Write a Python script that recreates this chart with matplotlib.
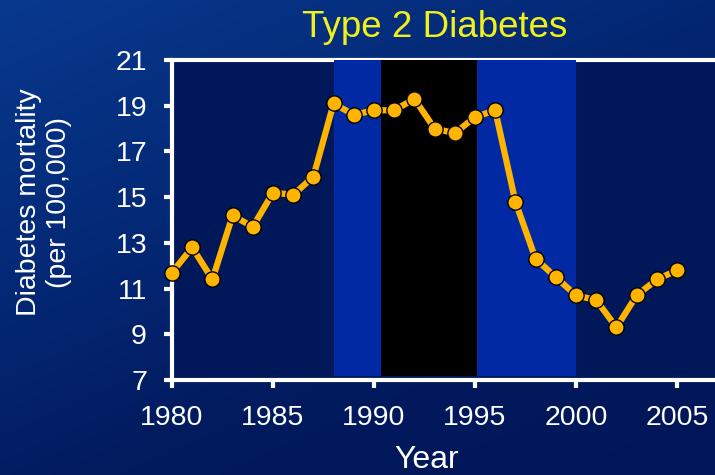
import numpy as np
import matplotlib
matplotlib.use("Agg")
import matplotlib.pyplot as plt
from matplotlib.colors import LinearSegmentedColormap

plt.rcParams['font.family'] = ['Liberation Sans', 'DejaVu Sans']

years = list(range(1980, 2006))
mortality = [11.7, 12.8, 11.4, 14.2, 13.7, 15.2, 15.1, 15.9, 19.1, 18.6,
             18.8, 18.8, 19.3, 18.0, 17.8, 18.5, 18.8, 14.8, 12.3, 11.5,
             10.7, 10.5, 9.3, 10.7, 11.4, 11.8]
bands = [(1988.0, 1990.35, '#0029a3'), (1990.35, 1995.1, '#000000'), (1995.1, 2000.0, '#0029a3')]
xticks = [1980, 1985, 1990, 1995, 2000, 2005]
yticks = [7, 9, 11, 13, 15, 17, 19, 21]

fig = plt.figure(figsize=(7.15, 4.75), dpi=100)

# background gradient
bg = fig.add_axes([0, 0, 1, 1], zorder=-10)
yy, xx = np.mgrid[0:1:200j, 0:1:300j]
grad = 0.6 * yy + 0.4 * xx
cmap = LinearSegmentedColormap.from_list('bg', ['#08398e', '#042a78', '#021a5e', '#011658'])
bg.imshow(grad, cmap=cmap, aspect='auto', extent=[0, 1, 0, 1], origin='upper')
bg.axis('off')

ax = fig.add_axes([172/715, 1 - 380/475, 1 - 172/715, 320/475])
ax.set_facecolor('#00185a')
ax.set_xlim(1980, 1980 + (715 - 172) / 20.2)
ax.set_ylim(7, 21)

for x0, x1, c in bands:
    ax.axvspan(x0, x1, ymin=0.012, ymax=1.0, color=c, zorder=3, lw=0)

ax.plot(years, mortality, color='#ffb400', lw=4.5, marker='o', ms=11,
        mfc='#ffb400', mec='black', mew=1.0, zorder=5, clip_on=False)

for s in ['left', 'bottom', 'top']:
    ax.spines[s].set_color('white')
    ax.spines[s].set_linewidth(3)
ax.spines['right'].set_visible(False)

ax.set_xticks(xticks)
ax.set_yticks(yticks)
ax.tick_params(axis='x', colors='white', labelsize=20.5, length=6, width=3, direction='out', pad=12)
ax.tick_params(axis='y', colors='white', labelsize=20.5, length=6, width=3, direction='out', pad=12)
for lab in ax.get_xticklabels() + ax.get_yticklabels():
    lab.set_color('white')

fig.text(435/715, 1 - 37/475, 'Type 2 Diabetes', color='#f0f01c', fontsize=26.5,
         ha='center', va='baseline')
fig.text(44/715, 1 - 202/475, 'Diabetes mortality\n(per 100,000)', color='white',
         fontsize=20.5, rotation=90, ha='center', va='center', linespacing=1.15)
fig.text(427/715, 1 - 468/475, 'Year', color='white', fontsize=23, ha='center', va='baseline')

fig.savefig('out.png', dpi=100)
